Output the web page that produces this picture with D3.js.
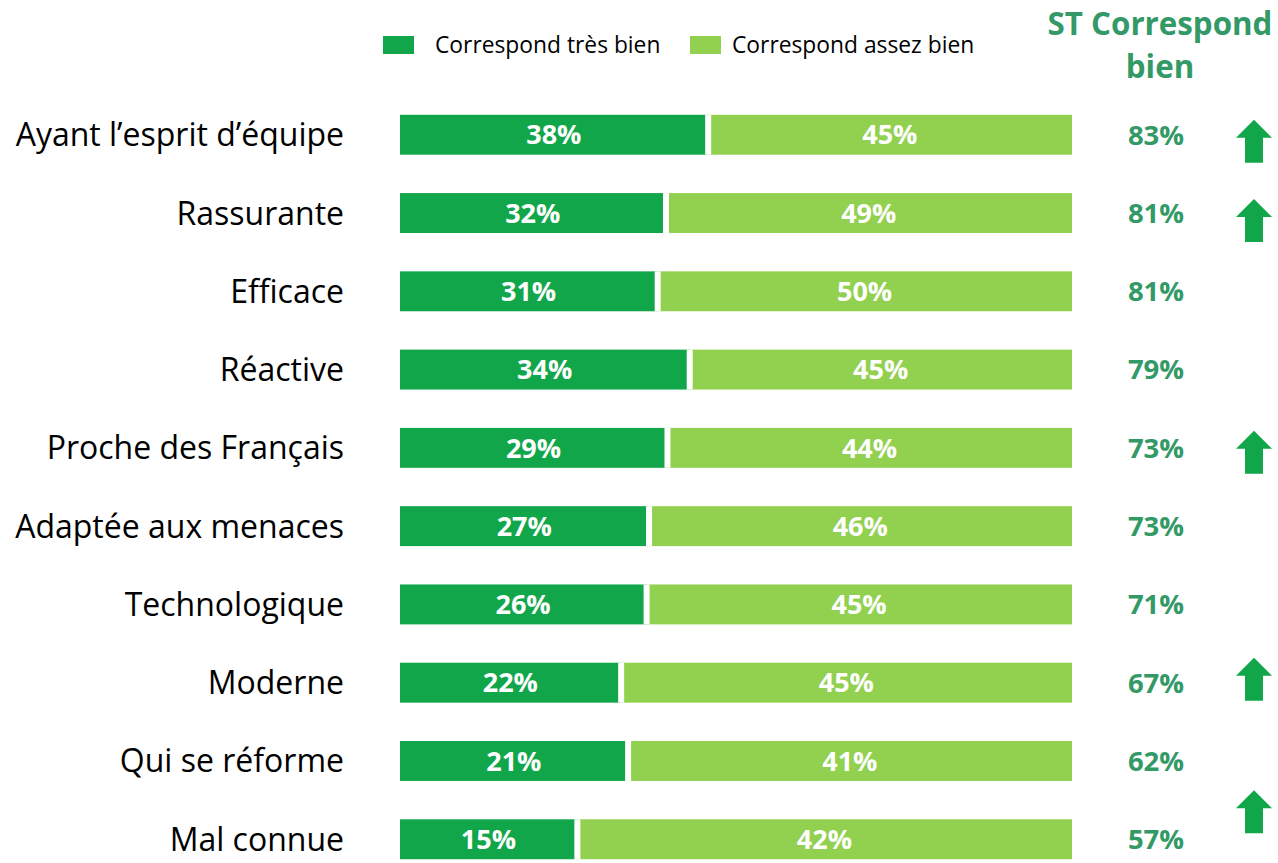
<!DOCTYPE html>
<html><head><meta charset="utf-8">
<script src="https://cdn.jsdelivr.net/npm/d3@7"></script>
<style>body{margin:0;background:#fff}svg{display:block}</style>
</head><body>
<svg id="c" width="1278" height="863"></svg>
<script>
const categories = ["Ayant l’esprit d’équipe","Rassurante","Efficace","Réactive","Proche des Français","Adaptée aux menaces","Technologique","Moderne","Qui se réforme","Mal connue"];
const tresBien = [38,32,31,34,29,27,26,22,21,15];
const assezBien = [45,49,50,45,44,46,45,45,41,42];
const totals = [83,81,81,79,73,73,71,67,62,57];
const upArrow = [true,true,false,false,true,false,false,true,false,true];
const seriesNames = ["Correspond très bien","Correspond assez bien"];
const headerLines = ["ST Correspond","bien"];

const C_DARK="#12a64a", C_LIGHT="#92d050", C_TOT="#339966";
const FONT="'Open Sans', sans-serif";
const arrowNudge=[6,7,0,0,4,0,0,-4,0,-28];

const svg=d3.select("#c");
const y=d3.scaleBand().domain(categories).range([96,878]).paddingInner(0.49).paddingOuter(0.24);
const x=d3.scaleLinear().domain([0,1]).range([400,1072]);

const rows=categories.map((c,i)=>({c,i,a:tresBien[i],b:assezBien[i],t:totals[i]}));
const g=svg.append("g");
rows.forEach(r=>{
  const s=r.a+r.b, f=r.a/s;
  const yy=y(r.c), h=y.bandwidth();
  g.append("rect").attr("x",x(0)).attr("y",yy).attr("width",x(f)-x(0)).attr("height",h).attr("fill",C_DARK);
  g.append("rect").attr("x",x(f)).attr("y",yy).attr("width",x(1)-x(f)).attr("height",h).attr("fill",C_LIGHT);
  g.append("line").attr("x1",x(f)+0.5).attr("x2",x(f)+0.5).attr("y1",yy).attr("y2",yy+h).attr("stroke","#fff").attr("stroke-width",6);
  const cy=yy+h/2;
  g.append("text").attr("x",(x(0)+x(f))/2).attr("y",cy).attr("dy","0.36em").attr("text-anchor","middle")
    .attr("fill","#fff").attr("font-weight","bold").attr("font-size",27).attr("font-family",FONT).text(r.a+"%");
  g.append("text").attr("x",(x(f)+x(1))/2).attr("y",cy).attr("dy","0.36em").attr("text-anchor","middle")
    .attr("fill","#fff").attr("font-weight","bold").attr("font-size",27).attr("font-family",FONT).text(r.b+"%");
  g.append("text").attr("x",344).attr("y",cy).attr("dy","0.36em").attr("text-anchor","end")
    .attr("fill","#000").attr("font-size",32).attr("font-family",FONT).text(r.c);
  g.append("text").attr("x",1156).attr("y",cy).attr("dy","0.36em").attr("text-anchor","middle")
    .attr("fill",C_TOT).attr("font-weight","bold").attr("font-size",27.5).attr("font-family",FONT).text(r.t+"%");
  if(upArrow[r.i]){
    const ay=cy+arrowNudge[r.i]-21, ax=1254;
    const p=[[ax,ay],[ax+18,ay+18],[ax+9,ay+18],[ax+9,ay+43],[ax-9,ay+43],[ax-9,ay+18],[ax-18,ay+18]];
    g.append("path").attr("d","M"+p.join("L")+"Z").attr("fill",C_DARK);
  }
});

// header
headerLines.forEach((t,i)=>{
  svg.append("text").attr("x",1160).attr("y",35+i*43).attr("text-anchor","middle")
    .attr("fill",C_TOT).attr("font-weight","bold").attr("font-size",31.3).attr("font-family",FONT).text(t);
});

// legend
const leg=[{n:seriesNames[0],c:C_DARK,x:383,tx:435},{n:seriesNames[1],c:C_LIGHT,x:690,tx:732}];
leg.forEach(l=>{
  svg.append("rect").attr("x",l.x).attr("y",36).attr("width",31).attr("height",18).attr("fill",l.c);
  svg.append("text").attr("x",l.tx).attr("y",45).attr("dy","0.36em").attr("fill","#000")
    .attr("font-size",22.8).attr("font-family",FONT).text(l.n);
});
</script>
</body></html>
